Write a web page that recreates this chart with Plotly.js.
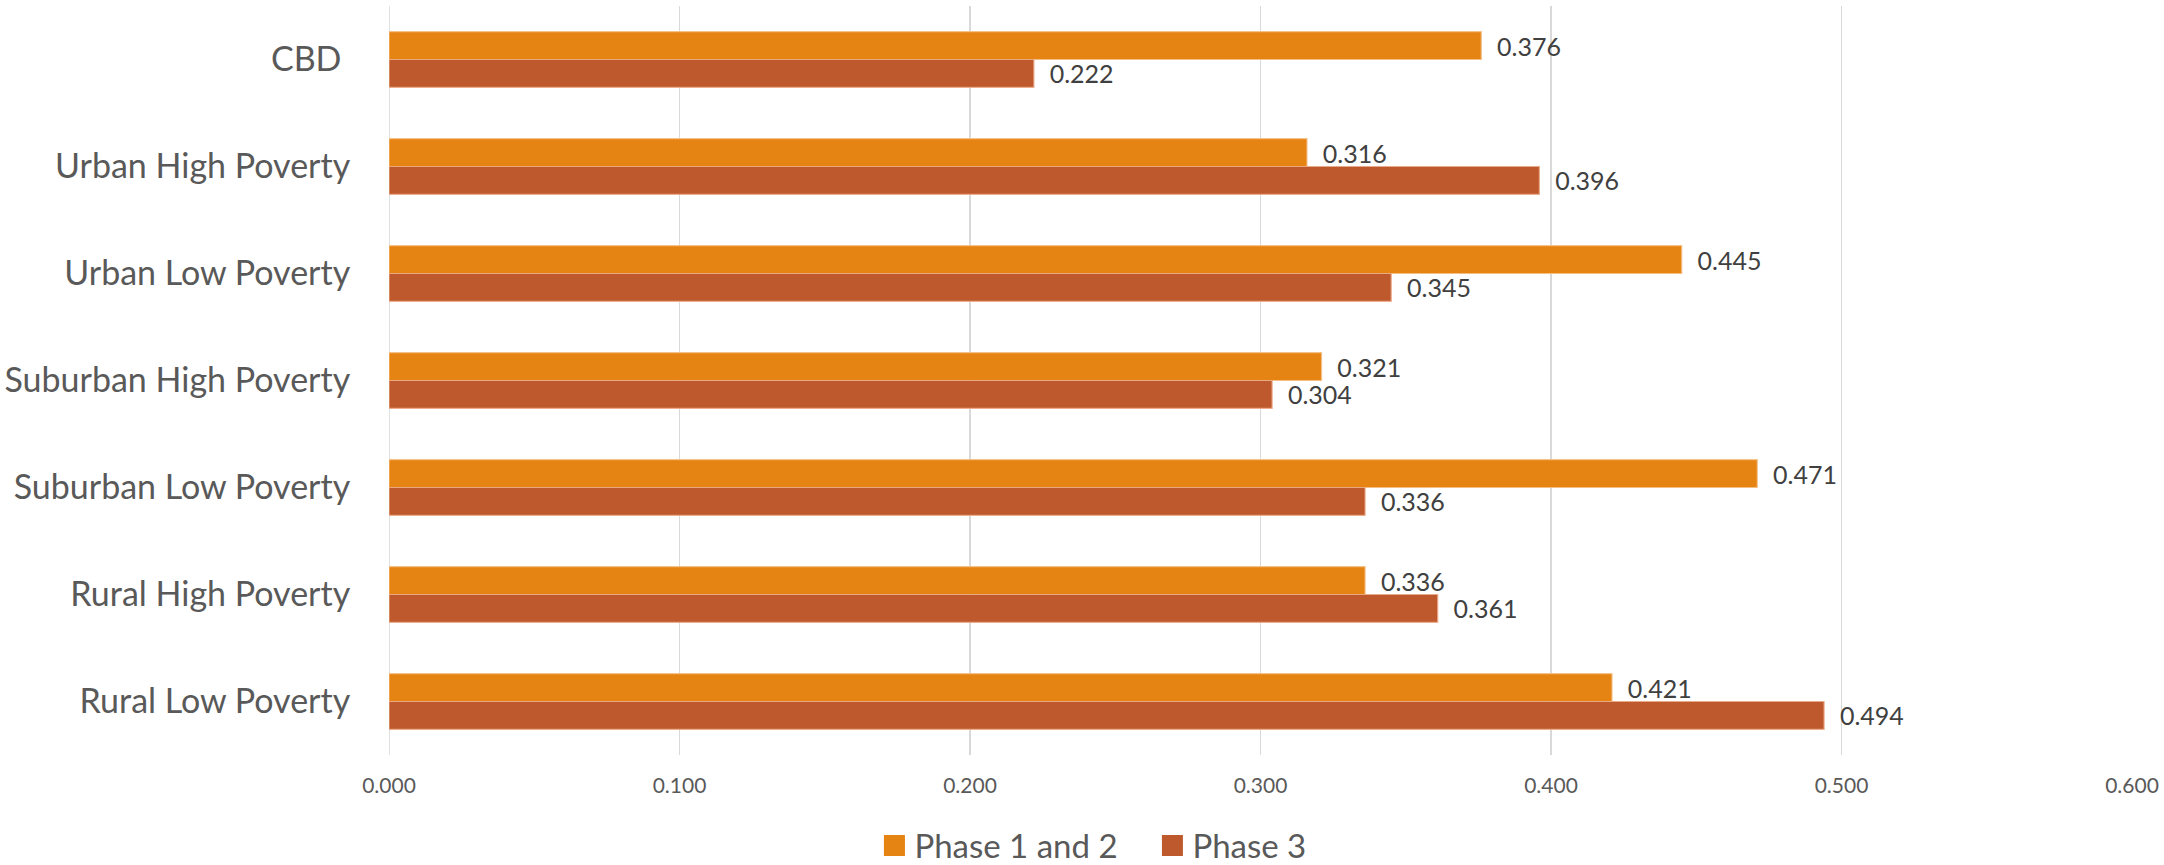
<!DOCTYPE html>
<html>
<head>
<meta charset="utf-8">
<script src="https://cdn.plot.ly/plotly-3.0.1.min.js"></script>
<style>
  html, body { margin: 0; padding: 0; background: #ffffff; }
  #chart { width: 2164px; height: 865px; }
</style>
</head>
<body>
<div id="chart"></div>
<script>
// Area types, listed top to bottom
const areas = [
  'CBD\u00a0',
  'Urban High Poverty',
  'Urban Low Poverty',
  'Suburban High Poverty',
  'Suburban Low Poverty',
  'Rural High Poverty',
  'Rural Low Poverty'
];

// Values per phase
const phase12 = [0.376, 0.316, 0.445, 0.321, 0.471, 0.336, 0.421];
const phase3  = [0.222, 0.396, 0.345, 0.304, 0.336, 0.361, 0.494];

const seriesNames = ['Phase 1 and 2', 'Phase 3'];
const xTicks = [0, 0.1, 0.2, 0.3, 0.4, 0.5, 0.6];

const FONT = 'Lato, "Open Sans", sans-serif';

function barTrace(name, values, color, border) {
  return {
    type: 'bar',
    orientation: 'h',
    name: name,
    x: values,
    y: areas,
    marker: { color: color, line: { color: border, width: 1.2 } },
    texttemplate: '\u00a0\u00a0%{x:.3f}',
    textposition: 'outside',
    constraintext: 'none',
    cliponaxis: false,
    textfont: { family: FONT, size: 25, color: '#404040' },
    hoverinfo: 'x+y+name'
  };
}

const data = [
  barTrace(seriesNames[0], phase12, '#E58313', 'rgba(245,190,130,0.9)'),
  barTrace(seriesNames[1], phase3, '#BE592D', 'rgba(235,170,135,0.9)')
];

const layout = {
  width: 2164,
  height: 865,
  margin: { l: 389, r: 32, t: 6, b: 110, autoexpand: false },
  paper_bgcolor: '#ffffff',
  plot_bgcolor: '#ffffff',
  barmode: 'group',
  bargap: 0.48,
  bargroupgap: 0,
  showlegend: true,
  legend: {
    orientation: 'h',
    x: 0.2785, xanchor: 'left',
    y: -0.121, yanchor: 'middle',
    traceorder: 'normal',
    entrywidth: 233,
    entrywidthmode: 'pixels',
    font: { family: FONT, size: 33, color: '#595959' }
  },
  xaxis: {
    range: [0, 0.6],
    tickvals: xTicks,
    tickformat: '.3f',
    showgrid: true,
    gridcolor: '#D9D9D9',
    gridwidth: 1.6,
    zeroline: false,
    showline: false,
    ticks: 'outside',
    ticklen: 12,
    tickcolor: 'rgba(0,0,0,0)',
    tickfont: { family: FONT, size: 21, color: '#595959' },
    fixedrange: true
  },
  yaxis: {
    type: 'category',
    autorange: 'reversed',
    showgrid: false,
    zeroline: false,
    showline: false,
    ticks: 'outside',
    ticklen: 31,
    tickcolor: 'rgba(0,0,0,0)',
    tickfont: { family: FONT, size: 34, color: '#595959' },
    fixedrange: true
  },
  shapes: [
    // left boundary gridline at zero
    { type: 'line', xref: 'x', yref: 'paper', x0: 0, x1: 0, y0: 0, y1: 1,
      line: { color: '#D9D9D9', width: 1.6 }, layer: 'below' }
  ]
};

Plotly.newPlot('chart', data, layout, { displayModeBar: false, staticPlot: true }).then(function () {
  // larger square legend swatches
  document.querySelectorAll('#chart .legend .legendpoints path').forEach(function (p) {
    p.setAttribute('d', 'M10.5,10.5H-10.5V-10.5H10.5Z');
    p.style.strokeWidth = '0px';
  });
});
</script>
</body>
</html>
